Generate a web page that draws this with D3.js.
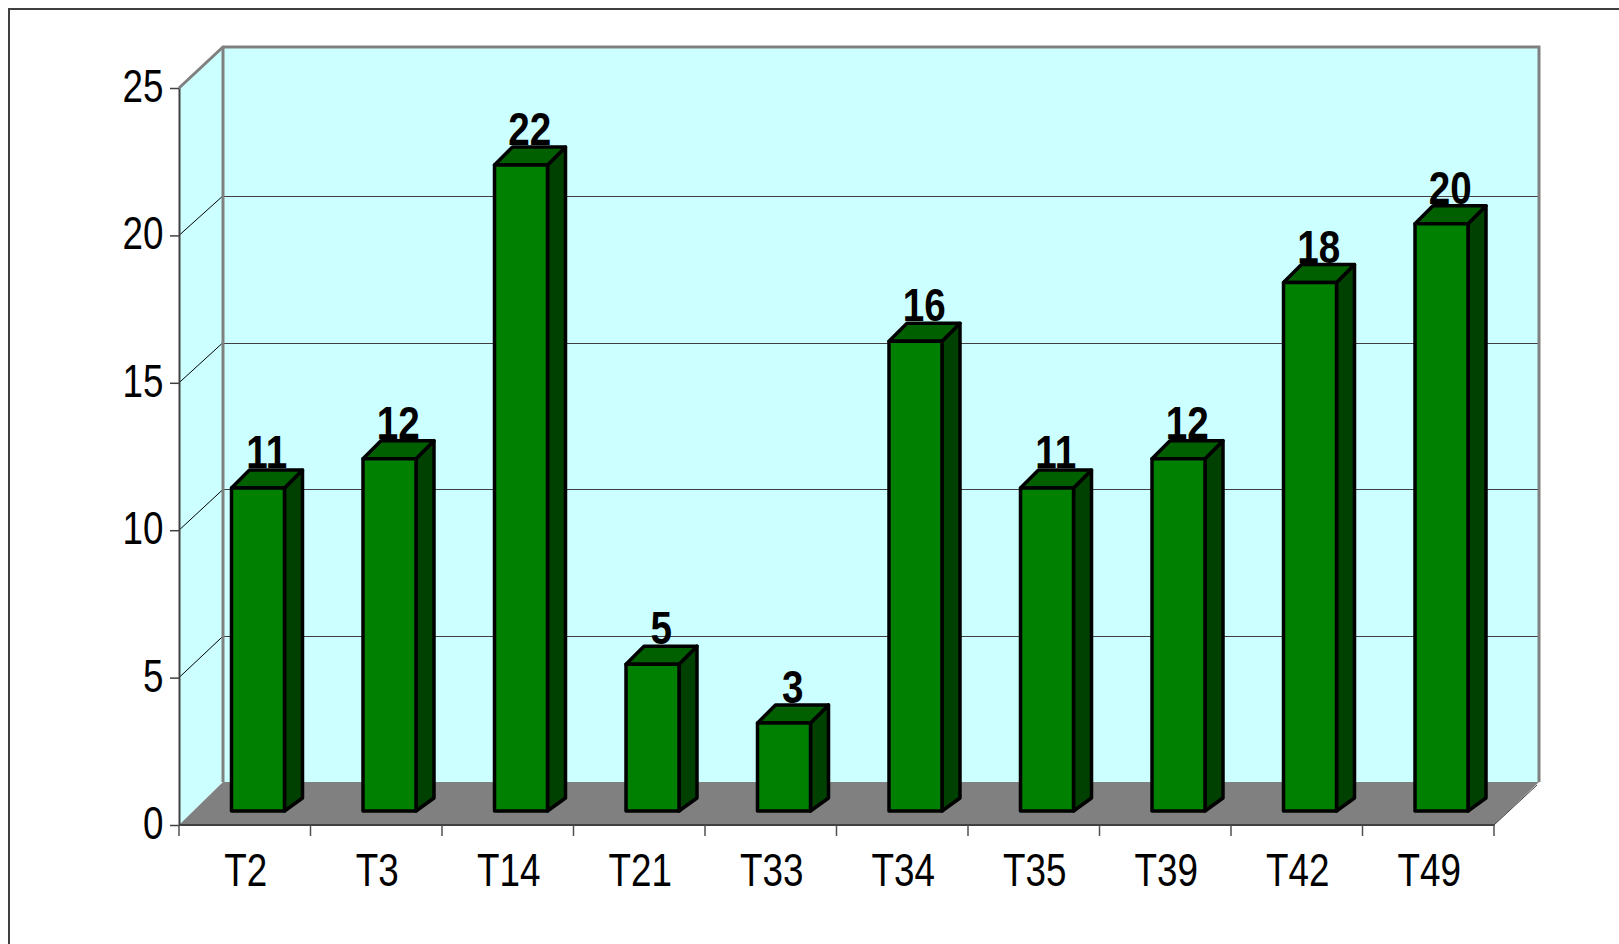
<!DOCTYPE html>
<html>
<head>
<meta charset="utf-8">
<title>Chart</title>
<script src="https://cdnjs.cloudflare.com/ajax/libs/d3/7.8.5/d3.min.js"></script>
<style>
  html, body { margin: 0; padding: 0; background: #fff; overflow: hidden; }
  svg { display: block; }
  text { font-family: "Liberation Sans", Arial, sans-serif; font-size: 46px; fill: #000; }
</style>
</head>
<body>
<div id="chart"></div>
<script>
var categories = ["T2", "T3", "T14", "T21", "T33", "T34", "T35", "T39", "T42", "T49"];
var values = [11, 12, 22, 5, 3, 16, 11, 12, 18, 20];
var yTicks = [0, 5, 10, 15, 20, 25];

var width = 1619, height = 944;

var svg = d3.select("#chart").append("svg")
    .attr("width", width)
    .attr("height", height);

// Outer frame, runs off the right and bottom of the page
svg.append("rect")
    .attr("x", 9).attr("y", 9)
    .attr("width", width + 50).attr("height", height + 50)
    .attr("fill", "#fff")
    .attr("stroke", "#404040")
    .attr("stroke-width", 2);

// Scales: front plane of the box, back wall, and the bars (which stand between the two)
var x = d3.scaleBand().domain(categories).range([179, 1494]);
var yFront = d3.scaleLinear().domain([0, 25]).range([825, 88]);
var yBack = d3.scaleLinear().domain([0, 25]).range([783, 49]);
var yBar = d3.scaleLinear().domain([0, 25]).range([811, 77]);

var backLeft = 223, backRight = 1539, backTop = 47, backBottom = 782;
var barOffset = 52.5, barWidth = 53;
var depthX = 18, depthTop = 18, depthBottom = 13;

function poly(points) {
    return "M" + points.map(function (p) { return p.join(","); }).join("L") + "Z";
}

// Walls and floor
svg.append("path")
    .attr("d", poly([[179, yFront(25)], [backLeft, backTop], [backLeft, backBottom], [179, yFront(0)]]))
    .attr("fill", "#ccffff");
svg.append("rect")
    .attr("x", backLeft).attr("y", backTop)
    .attr("width", backRight - backLeft).attr("height", backBottom - backTop)
    .attr("fill", "#ccffff");
svg.append("path")
    .attr("d", poly([[179, yFront(0)], [backLeft, backBottom], [backRight, backBottom], [1494, yFront(0)]]))
    .attr("fill", "#808080");

// Gridlines on the back wall and their diagonals on the side wall
var inner = yTicks.filter(function (d) { return d > 0 && d < 25; });
svg.selectAll(".grid").data(inner).enter().append("line")
    .attr("class", "grid")
    .attr("x1", backLeft).attr("x2", backRight)
    .attr("y1", function (d) { return Math.round(yBack(d)) + 0.5; })
    .attr("y2", function (d) { return Math.round(yBack(d)) + 0.5; })
    .attr("stroke", "#404040").attr("stroke-width", 1);
svg.selectAll(".diag").data(inner).enter().append("line")
    .attr("class", "diag")
    .attr("x1", 179).attr("x2", backLeft)
    .attr("y1", function (d) { return yFront(d); })
    .attr("y2", function (d) { return yBack(d); })
    .attr("stroke", "#000").attr("stroke-width", 1);

// Gray outline of the box
svg.append("path")
    .attr("d", "M179," + yFront(25) + "L" + backLeft + "," + backTop + "L" + backRight + "," + backTop + "L" + backRight + "," + backBottom)
    .attr("fill", "none").attr("stroke", "#808080").attr("stroke-width", 3);
svg.append("line")
    .attr("x1", backLeft).attr("x2", backLeft)
    .attr("y1", backTop).attr("y2", backBottom)
    .attr("stroke", "#808080").attr("stroke-width", 3);
svg.append("line")
    .attr("x1", 1494).attr("x2", backRight - 2)
    .attr("y1", yFront(0)).attr("y2", backBottom + 3)
    .attr("stroke", "#404040").attr("stroke-width", 1);

// Y axis
var yAxis = svg.append("g")
    .attr("transform", "translate(179,0)")
    .call(d3.axisLeft(yFront).tickValues(yTicks).tickSize(9).tickFormat("").tickSizeOuter(0));
yAxis.select(".domain").attr("stroke", "#404040").attr("stroke-width", 2);
yAxis.selectAll("line").attr("stroke", "#404040").attr("stroke-width", 1.5);

svg.selectAll(".ylabel").data(yTicks).enter().append("text")
    .attr("class", "ylabel")
    .attr("text-anchor", "end")
    .attr("transform", function (d) { return "translate(163.5," + (yFront(d) + 14) + ") scale(0.8,1)"; })
    .text(function (d) { return d; });

// X axis, ticks sit on the band edges
svg.append("line")
    .attr("x1", 179).attr("x2", 1494)
    .attr("y1", yFront(0)).attr("y2", yFront(0))
    .attr("stroke", "#404040").attr("stroke-width", 2);
svg.selectAll(".xtick").data(categories.concat(["end"])).enter().append("line")
    .attr("class", "xtick")
    .attr("x1", function (d, i) { return 179 + i * x.step(); })
    .attr("x2", function (d, i) { return 179 + i * x.step(); })
    .attr("y1", yFront(0)).attr("y2", yFront(0) + 11)
    .attr("stroke", "#505050").attr("stroke-width", 1.5);

svg.selectAll(".xlabel").data(categories).enter().append("text")
    .attr("class", "xlabel")
    .attr("text-anchor", "middle")
    .attr("transform", function (d) { return "translate(" + (x(d) + x.bandwidth() / 2 + 1) + ",886) scale(0.8,1)"; })
    .text(function (d) { return d; });

// Bars: front, side and top faces
var bars = svg.selectAll(".bar").data(values).enter().append("g").attr("class", "bar");

function barLeft(i) { return x(categories[i]) + barOffset; }

bars.append("path")
    .attr("d", function (d, i) {
        var l = barLeft(i) + barWidth;
        return poly([[l, yBar(d)], [l + depthX, yBar(d) - depthTop], [l + depthX, yBar(0) - depthBottom], [l, yBar(0)]]);
    })
    .attr("fill", "#004000");
bars.append("path")
    .attr("d", function (d, i) {
        var l = barLeft(i);
        return poly([[l, yBar(d)], [l + depthX, yBar(d) - depthTop], [l + barWidth + depthX, yBar(d) - depthTop], [l + barWidth, yBar(d)]]);
    })
    .attr("fill", "#006000");
bars.append("rect")
    .attr("x", function (d, i) { return barLeft(i); })
    .attr("y", function (d) { return yBar(d); })
    .attr("width", barWidth)
    .attr("height", function (d) { return yBar(0) - yBar(d); })
    .attr("fill", "#008000");
bars.selectAll("path, rect")
    .attr("stroke", "#000")
    .attr("stroke-width", 3.5)
    .attr("stroke-linejoin", "round");

// Value labels
svg.selectAll(".vlabel").data(values).enter().append("text")
    .attr("class", "vlabel")
    .attr("text-anchor", "middle")
    .attr("font-weight", "bold")
    .attr("transform", function (d, i) {
        return "translate(" + (x(categories[i]) + x.bandwidth() / 2 + 22) + "," + (yBar(d) - 20) + ") scale(0.84,1)";
    })
    .text(function (d) { return d; });
</script>
</body>
</html>
